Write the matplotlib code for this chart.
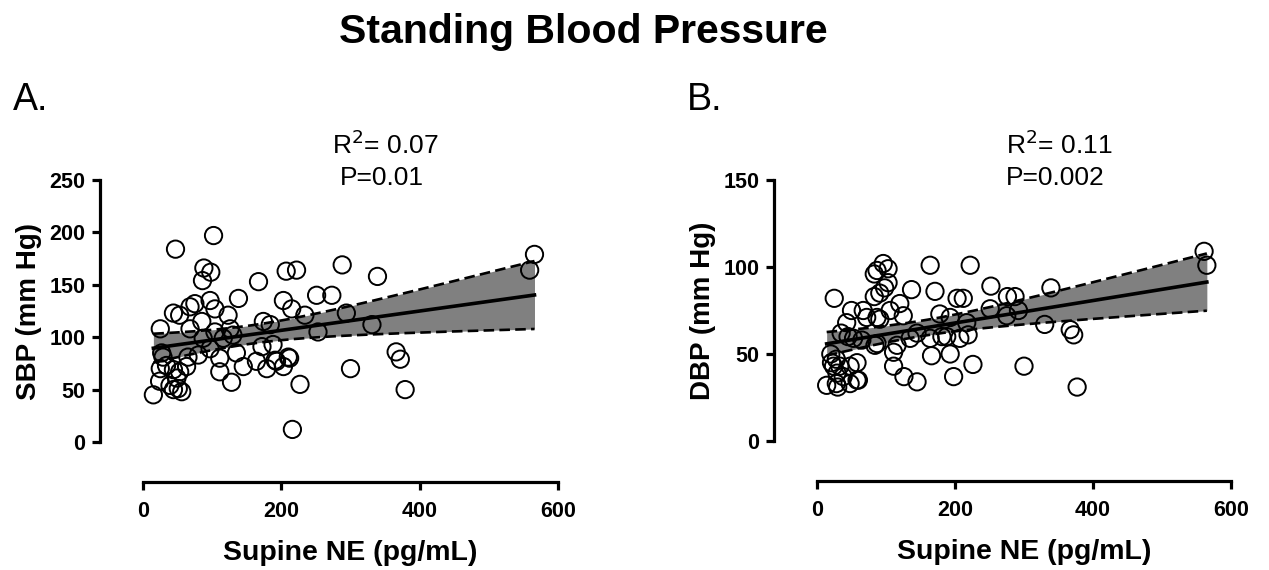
import numpy as np
import matplotlib
matplotlib.use("Agg")
import matplotlib.pyplot as plt

plt.rcParams['font.family'] = ['Liberation Sans', 'DejaVu Sans']

# panel A: supine NE vs standing SBP
ne_a = [102, 47, 88, 98, 86, 167, 207, 222, 288, 339, 566, 559,
        44, 53, 68, 75, 97, 104, 138, 123, 203, 215, 234, 251, 273, 294, 253,
        25, 85, 68, 104, 126, 130, 116, 87, 97, 174, 184, 172, 188, 331,
        111, 135, 80, 65, 27, 34, 25, 44, 53, 63, 49, 39, 15, 44, 56, 24,
        111, 128, 145, 164, 191, 203, 210, 179, 227, 216, 300, 366, 372, 379,
        29, 51, 193, 212]
sbp = [197, 184, 166, 162, 154, 153, 163, 164, 169, 158, 179, 164,
       123, 121, 129, 132, 135, 127, 137, 121, 135, 127, 121, 140, 140, 123, 105,
       108, 115, 108, 105, 108, 102, 99, 99, 89, 115, 112, 91, 93, 112,
       80, 85, 83, 81, 85, 73, 70, 69, 67, 72, 61, 54, 45, 50, 48, 58,
       67, 57, 72, 77, 78, 72, 81, 70, 55, 12, 70, 86, 79, 50,
       81, 51, 77, 80]

# panel B: supine NE vs standing DBP
ne_b = [14, 25, 30, 43, 21, 33, 48, 58, 48, 58, 29, 45, 50, 67, 72, 87,
        83, 87, 96, 103, 103, 98, 83, 91, 137, 120, 125, 106, 91, 87, 84,
        65, 53, 111, 116, 111, 126, 145, 135, 145, 164, 171, 222, 203, 212,
        166, 193, 198, 226, 164, 181, 207, 219, 188, 178, 193, 217,
        561, 565, 252, 276, 287, 339, 251, 292, 275, 330, 367, 372, 300, 377,
        24, 28, 38, 60, 28, 20, 35]
dbp = [32, 82, 31, 68, 45, 43, 43, 45, 33, 35, 39, 60, 75, 75, 71, 71,
       96, 98, 102, 99, 91, 88, 83, 85, 87, 79, 72, 75, 70, 56, 55,
       58, 59, 51, 55, 43, 37, 34, 59, 62, 101, 86, 101, 82, 82,
       49, 50, 37, 44, 59, 60, 59, 61, 60, 73, 71, 68,
       109, 101, 89, 83, 83, 88, 76, 75, 72, 67, 64, 61, 43, 31,
       43, 47, 37, 35, 33, 50, 62]

panels = [
    dict(x=ne_a, y=sbp, ylim=250, yticks=[0, 50, 100, 150, 200, 250],
         ylabel="SBP (mm Hg)", letter="A.", r2="0.07", p="P=0.01",
         left=143, top=180, bottom=442, width=415),
    dict(x=ne_b, y=dbp, ylim=150, yticks=[0, 50, 100, 150],
         ylabel="DBP (mm Hg)", letter="B.", r2="0.11", p="P=0.002",
         left=817, top=180, bottom=441, width=414),
]

W, H = 1269, 570
fig = plt.figure(figsize=(W / 100, H / 100), dpi=100)

fig.text(583 / W, 1 - 32 / H, "Standing Blood Pressure", ha="center", va="center",
         fontsize=29.5, fontweight="bold")

for pn in panels:
    ax = fig.add_axes([pn["left"] / W, 1 - pn["bottom"] / H,
                       pn["width"] / W, (pn["bottom"] - pn["top"]) / H])
    x = np.array(pn["x"], float)
    y = np.array(pn["y"], float)

    # linear fit + 95% confidence band
    n = len(x)
    slope, icpt = np.polyfit(x, y, 1)
    xs = np.linspace(x.min(), x.max(), 200)
    fit = icpt + slope * xs
    resid = y - (icpt + slope * x)
    s = np.sqrt(np.sum(resid ** 2) / (n - 2))
    se = s * np.sqrt(1 / n + (xs - x.mean()) ** 2 / np.sum((x - x.mean()) ** 2))
    ci = 1.99 * se

    ax.fill_between(xs, fit - ci, fit + ci, color="#808080", lw=0, zorder=1)
    ax.plot(xs, fit + ci, color="black", ls=(0, (4, 2)), lw=1.9, zorder=2)
    ax.plot(xs, fit - ci, color="black", ls=(0, (4, 2)), lw=1.9, zorder=2)
    ax.scatter(x, y, s=155, facecolors="none", edgecolors="black",
               linewidths=1.4, zorder=3)
    ax.plot(xs, fit, color="black", lw=2.6, zorder=4)

    ax.set_xlim(0, 600)
    ax.set_ylim(0, pn["ylim"])
    ax.set_xticks([0, 200, 400, 600])
    ax.set_yticks(pn["yticks"])
    for side in ["top", "right"]:
        ax.spines[side].set_visible(False)
    ax.spines["left"].set_position(("outward", 31))
    ax.spines["bottom"].set_position(("outward", 29))
    for side in ["left", "bottom"]:
        ax.spines[side].set_linewidth(2.3)
    ax.tick_params(width=2.3, length=5.5, labelsize=15.5, pad=5)
    ax.tick_params(axis="x", pad=8)
    for lab in ax.get_xticklabels() + ax.get_yticklabels():
        lab.set_fontweight("bold")
    ax.set_xlabel("Supine NE (pg/mL)", fontsize=20.5, fontweight="bold", labelpad=13)
    ax.set_ylabel(pn["ylabel"], fontsize=20, fontweight="bold", labelpad=5)

    cx = pn["left"] + pn["width"] * 0.585
    fig.text((pn["left"] - 130) / W, 1 - 100 / H, pn["letter"], ha="left",
             va="center", fontsize=27)
    fig.text(cx / W, 1 - 145 / H, "R$^2$= " + pn["r2"], ha="center", va="center",
             fontsize=19)
    fig.text((cx - 4) / W, 1 - 178 / H, pn["p"], ha="center", va="center",
             fontsize=19)

fig.savefig("out.png", dpi=100)
